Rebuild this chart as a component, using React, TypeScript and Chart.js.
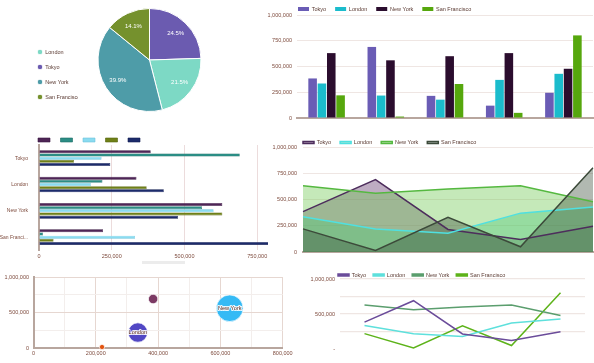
import React, { useEffect, useRef } from 'react';
import { Chart, registerables } from 'chart.js';

Chart.register(...registerables);

const FONT = '"Liberation Sans", Arial, Helvetica, sans-serif';
Chart.defaults.font.family = FONT;
Chart.defaults.font.size = 5.5;
Chart.defaults.color = '#7d4a3c';

// ---------------- data ----------------
const cities = ['Tokyo', 'London', 'New York', 'San Francisco'];
const periods = ['Q1', 'Q2', 'Q3', 'Q4', 'Q5'];
const tokyo = [384000, 690000, 215000, 120000, 245000];
const london = [335000, 218000, 178000, 370000, 429000];
const newYork = [630000, 560000, 600000, 630000, 478000];
const sanFrancisco = [220000, 14000, 330000, 50000, 802000];
const pieShare = [24.5, 21.5, 39.9, 14.1]; // Tokyo, London, New York, San Francisco
const pieLegendOrder = ['London', 'Tokyo', 'New York', 'San Francisco'];
const bubbleRadius = [4.7, 9.7, 13.3, 2.6];
const series = [tokyo, london, newYork, sanFrancisco];

// ---------------- styles ----------------
const pieColors = ['#6b5bb0', '#7dd9c5', '#4e9ca8', '#75912d'];
const barColors = ['#6a5cb5', '#1bbccc', '#2b0d2e', '#56a70d'];
const hbarFill = ['#4e2556', '#2b8d85', '#8adbf0', '#6f8018', '#1c2b6b'];
const hbarBorder = ['#3a1640', '#1d6b64', '#6cc4dc', '#56640f', '#111d50'];
const areaLine = ['#4d2d5c', '#4fe0e0', '#55b840', '#3c4a3a'];
const areaFill = ['rgba(110,70,120,0.45)', 'rgba(60,200,150,0.4)', 'rgba(110,200,80,0.4)', 'rgba(60,80,60,0.4)'];
const bubbleColors = ['#7c3a64', '#5147c4', '#35baf5', '#e2530f'];
const lineColors = ['#6b4c9a', '#5ee0dc', '#5b9e6e', '#5db31a'];

const GRID = '#efe6e3';
const MAJOR = '#e6d7d1';
const MINOR = '#f3eeec';
const AXIS = '#b8a69e';
const LEGEND_TEXT = '#5a3a32';

const fmt = (v: any) => Number(v).toLocaleString('en-US');

function legendAt(left: number, top: number) {
  return {
    id: 'legendAt',
    afterUpdate(chart: any) {
      const lg = chart.legend;
      if (!lg) return;
      const w = lg.width;
      const h = lg.height;
      lg.left = left;
      lg.right = left + w;
      lg.top = top;
      lg.bottom = top + h + 30;
    },
  };
}

const whiteBg = {
  id: 'whiteBg',
  beforeDraw(chart: any) {
    const { ctx, width, height } = chart;
    ctx.save();
    ctx.fillStyle = '#ffffff';
    ctx.fillRect(0, 0, width, height);
    ctx.restore();
  },
};

const pieLabels = {
  id: 'pieLabels',
  afterDatasetsDraw(chart: any) {
    const meta = chart.getDatasetMeta(0);
    const data = chart.data.datasets[0].data as number[];
    const total = data.reduce((a, b) => a + b, 0);
    const ctx = chart.ctx;
    ctx.save();
    ctx.fillStyle = '#ffffff';
    ctx.font = `6px ${FONT}`;
    ctx.textAlign = 'center';
    ctx.textBaseline = 'middle';
    meta.data.forEach((arc: any, i: number) => {
      const p = arc.getProps(['x', 'y', 'startAngle', 'endAngle', 'outerRadius'], true);
      const mid = (p.startAngle + p.endAngle) / 2;
      const r = p.outerRadius * 0.73;
      ctx.fillText(((data[i] / total) * 100).toFixed(1) + '%', p.x + Math.cos(mid) * r, p.y + Math.sin(mid) * r);
    });
    ctx.restore();
  },
};

const bubbleLabels = {
  id: 'bubbleLabels',
  afterDatasetsDraw(chart: any) {
    const ctx = chart.ctx;
    ctx.save();
    ctx.font = `5.6px ${FONT}`;
    ctx.textAlign = 'center';
    ctx.textBaseline = 'middle';
    ctx.lineJoin = 'round';
    chart.data.datasets.forEach((ds: any, i: number) => {
      const meta = chart.getDatasetMeta(i);
      meta.data.forEach((el: any, j: number) => {
        const raw = ds.data[j];
        if (raw.r < 8) return;
        ctx.lineWidth = 2;
        ctx.strokeStyle = 'rgba(255,255,255,0.9)';
        ctx.strokeText(ds.label, el.x, el.y);
        ctx.fillStyle = '#5a2a1f';
        ctx.fillText(ds.label, el.x, el.y);
      });
    });
    ctx.restore();
  },
};

function ChartBox({ left, top, width, height, make }: any) {
  const ref = useRef<HTMLCanvasElement>(null);
  useEffect(() => {
    const chart = new Chart(ref.current as HTMLCanvasElement, make());
    return () => chart.destroy();
  }, []);
  return (
    <canvas
      ref={ref}
      width={width}
      height={height}
      style={{ position: 'absolute', left, top, width, height, display: 'block' }}
    />
  );
}

const pieConfig = (): any => ({
  type: 'pie',
  data: {
    labels: cities,
    datasets: [{ data: pieShare, backgroundColor: pieColors, borderColor: '#ffffff', borderWidth: 1 }],
  },
  options: {
    responsive: false,
    animation: false,
    layout: { padding: { left: 47, right: 88, top: 8, bottom: 13 } },
    plugins: {
      legend: {
        position: 'left',
        align: 'start',
        maxWidth: 50,
        labels: {
          usePointStyle: true,
          pointStyle: 'circle',
          boxWidth: 5,
          boxHeight: 4,
          padding: 9.5,
          color: LEGEND_TEXT,
          sort: (a: any, b: any) => pieLegendOrder.indexOf(a.text) - pieLegendOrder.indexOf(b.text),
        },
      },
      tooltip: { enabled: false },
    },
  },
  plugins: [legendAt(28, 39.75), pieLabels],
});

const barConfig = (): any => ({
  type: 'bar',
  data: {
    labels: periods,
    datasets: cities.map((c, i) => ({
      label: c,
      data: series[i],
      backgroundColor: barColors[i],
      borderWidth: 0,
      categoryPercentage: 0.63,
      barPercentage: 0.92,
    })),
  },
  options: {
    responsive: false,
    animation: false,
    layout: { padding: { left: 0, right: 1, top: 3, bottom: 0 } },
    scales: {
      x: {
        ticks: { display: false },
        grid: { display: false },
        border: { color: AXIS, width: 2 },
        afterFit: (s: any) => { s.height = 12; },
      },
      y: {
        min: 0,
        max: 1000000,
        ticks: { stepSize: 250000, padding: 5, callback: fmt },
        grid: { color: GRID, drawTicks: false },
        border: { display: false },
        afterFit: (s: any) => { s.width = 57; },
      },
    },
    plugins: {
      legend: {
        align: 'start',
        fullSize: false,
        maxHeight: 12,
        labels: { boxWidth: 11, boxHeight: 4, padding: 9, color: LEGEND_TEXT },
      },
      tooltip: { enabled: false },
    },
  },
  plugins: [legendAt(49, -2.75)],
});

const hbarConfig = (): any => ({
  type: 'bar',
  data: {
    labels: cities,
    datasets: periods.map((p, j) => ({
      label: '',
      data: series.map((s) => s[j]),
      backgroundColor: hbarFill[j],
      borderColor: hbarBorder[j],
      borderWidth: 0.6,
      categoryPercentage: 0.6,
      barPercentage: 0.95,
    })),
  },
  options: {
    indexAxis: 'y',
    responsive: false,
    animation: false,
    layout: { padding: { left: 0, right: 15, top: 0, bottom: 0 } },
    scales: {
      x: {
        min: 0,
        max: 1000000,
        ticks: { stepSize: 250000, padding: 2.4, callback: fmt, autoSkip: false, maxRotation: 0 },
        grid: { color: '#ecdcdc', drawTicks: false },
        border: { display: false },
        afterFit: (s: any) => { s.height = 13.7; },
      },
      y: {
        ticks: {
          padding: 3,
          font: { size: 5 },
          callback: function (this: any, v: any) {
            const l = String(this.getLabelForValue(v));
            return l.length > 10 ? l.slice(0, 10) + '...' : l;
          },
        },
        grid: { display: false },
        border: { color: AXIS, width: 2 },
        afterFit: (s: any) => { s.width = 39; },
      },
    },
    plugins: {
      legend: {
        align: 'start',
        fullSize: false,
        maxHeight: 17,
        labels: { boxWidth: 12, boxHeight: 4, padding: 7.75 },
      },
      tooltip: { enabled: false },
    },
  },
  plugins: [legendAt(30.25, 1.5)],
});

const areaConfig = (): any => ({
  type: 'line',
  data: {
    labels: periods,
    datasets: cities.map((c, i) => ({
      label: c,
      data: series[i],
      borderColor: areaLine[i],
      backgroundColor: areaFill[i],
      borderWidth: 1.5,
      fill: 'origin',
      pointRadius: 0,
      tension: 0,
      order: 4 - i,
    })),
  },
  options: {
    responsive: false,
    animation: false,
    layout: { padding: { left: 0, right: 1, top: 0, bottom: 0 } },
    scales: {
      x: {
        ticks: { display: false },
        grid: { display: false },
        border: { color: AXIS, width: 2 },
        afterFit: (s: any) => { s.height = 10; },
      },
      y: {
        min: 0,
        max: 1000000,
        ticks: { stepSize: 250000, padding: 6, callback: fmt },
        grid: { color: GRID, drawTicks: false },
        border: { display: false },
        afterFit: (s: any) => { s.width = 35; },
      },
    },
    plugins: {
      filler: { drawTime: 'beforeDatasetsDraw' },
      legend: {
        align: 'start',
        fullSize: false,
        maxHeight: 19,
        labels: {
          boxWidth: 11,
          boxHeight: 2,
          padding: 9,
          color: LEGEND_TEXT,
          sort: (a: any, b: any) => a.datasetIndex - b.datasetIndex,
        },
      },
      tooltip: { enabled: false },
    },
  },
  plugins: [whiteBg, legendAt(26, 2.75)],
});

const bubbleConfig = (): any => ({
  type: 'bubble',
  data: {
    datasets: cities.map((c, i) => ({
      label: c,
      data: [{ x: series[i][0], y: series[i][1], r: bubbleRadius[i] }],
      backgroundColor: bubbleColors[i],
      borderColor: 'rgba(255,255,255,0.7)',
      borderWidth: 1,
      clip: false,
    })),
  },
  options: {
    responsive: false,
    animation: false,
    layout: { padding: { left: 0, right: 14, top: 15, bottom: 0 } },
    scales: {
      x: {
        min: 0,
        max: 800000,
        ticks: {
          stepSize: 100000,
          autoSkip: false,
          maxRotation: 0,
          padding: 2.5,
          callback: (v: any) => (v % 200000 === 0 ? fmt(v) : ''),
        },
        grid: {
          color: (c: any) => (c.tick && c.tick.value % 200000 === 0 ? MAJOR : MINOR),
          drawTicks: false,
        },
        border: { color: AXIS, width: 2 },
        afterFit: (s: any) => { s.height = 15; },
      },
      y: {
        min: 0,
        max: 1000000,
        ticks: {
          stepSize: 250000,
          autoSkip: false,
          padding: 4.5,
          callback: (v: any) => (v % 500000 === 0 ? fmt(v) : ''),
        },
        grid: {
          color: (c: any) => (c.tick && c.tick.value % 500000 === 0 ? MAJOR : MINOR),
          drawTicks: false,
        },
        border: { color: AXIS, width: 2 },
        afterFit: (s: any) => { s.width = 33.5; },
      },
    },
    plugins: { legend: { display: false }, tooltip: { enabled: false } },
  },
  plugins: [bubbleLabels],
});

const lineConfig = (): any => ({
  type: 'line',
  data: {
    labels: periods,
    datasets: cities.map((c, i) => ({
      label: c,
      data: series[i],
      borderColor: lineColors[i],
      backgroundColor: lineColors[i],
      borderWidth: 1.5,
      pointRadius: 0,
      tension: 0,
      fill: false,
    })),
  },
  options: {
    responsive: false,
    animation: false,
    layout: { padding: { left: 0, right: 9, top: 0, bottom: 0 } },
    scales: {
      x: {
        offset: true,
        ticks: { display: false },
        grid: { display: false },
        border: { display: false },
        afterFit: (s: any) => { s.height = 14; },
      },
      y: {
        min: 0,
        max: 1000000,
        ticks: {
          stepSize: 250000,
          autoSkip: false,
          padding: 5,
          callback: (v: any) => (v === 0 ? '-' : v % 500000 === 0 ? fmt(v) : ''),
        },
        grid: {
          color: (c: any) => (c.tick && c.tick.value === 0 ? 'rgba(0,0,0,0)' : GRID),
          drawTicks: false,
          lineWidth: 1.2,
        },
        border: { display: false },
        afterFit: (s: any) => { s.width = 43; },
      },
    },
    plugins: {
      legend: {
        align: 'start',
        fullSize: false,
        maxHeight: 17,
        labels: { boxWidth: 11, boxHeight: 2, padding: 7, color: LEGEND_TEXT },
      },
      tooltip: { enabled: false },
    },
  },
  plugins: [legendAt(34, 3.25)],
});

export default function App() {
  return (
    <div
      style={{
        position: 'fixed',
        left: 0,
        top: 0,
        width: 594,
        height: 363,
        background: '#ffffff',
        overflow: 'hidden',
      }}
    >
      <ChartBox left={0} top={0} width={290} height={125} make={pieConfig} />
      <ChartBox left={240} top={0} width={354} height={130} make={barConfig} />
      <ChartBox left={0} top={128} width={345} height={136} make={hbarConfig} />
      <ChartBox left={268} top={128} width={326} height={134} make={areaConfig} />
      <ChartBox left={0} top={262} width={297} height={101} make={bubbleConfig} />
      <ChartBox left={297} top={262} width={297} height={101} make={lineConfig} />
      <div style={{ position: 'absolute', left: 142, top: 261, width: 43, height: 3, background: '#ececec' }} />
    </div>
  );
}
